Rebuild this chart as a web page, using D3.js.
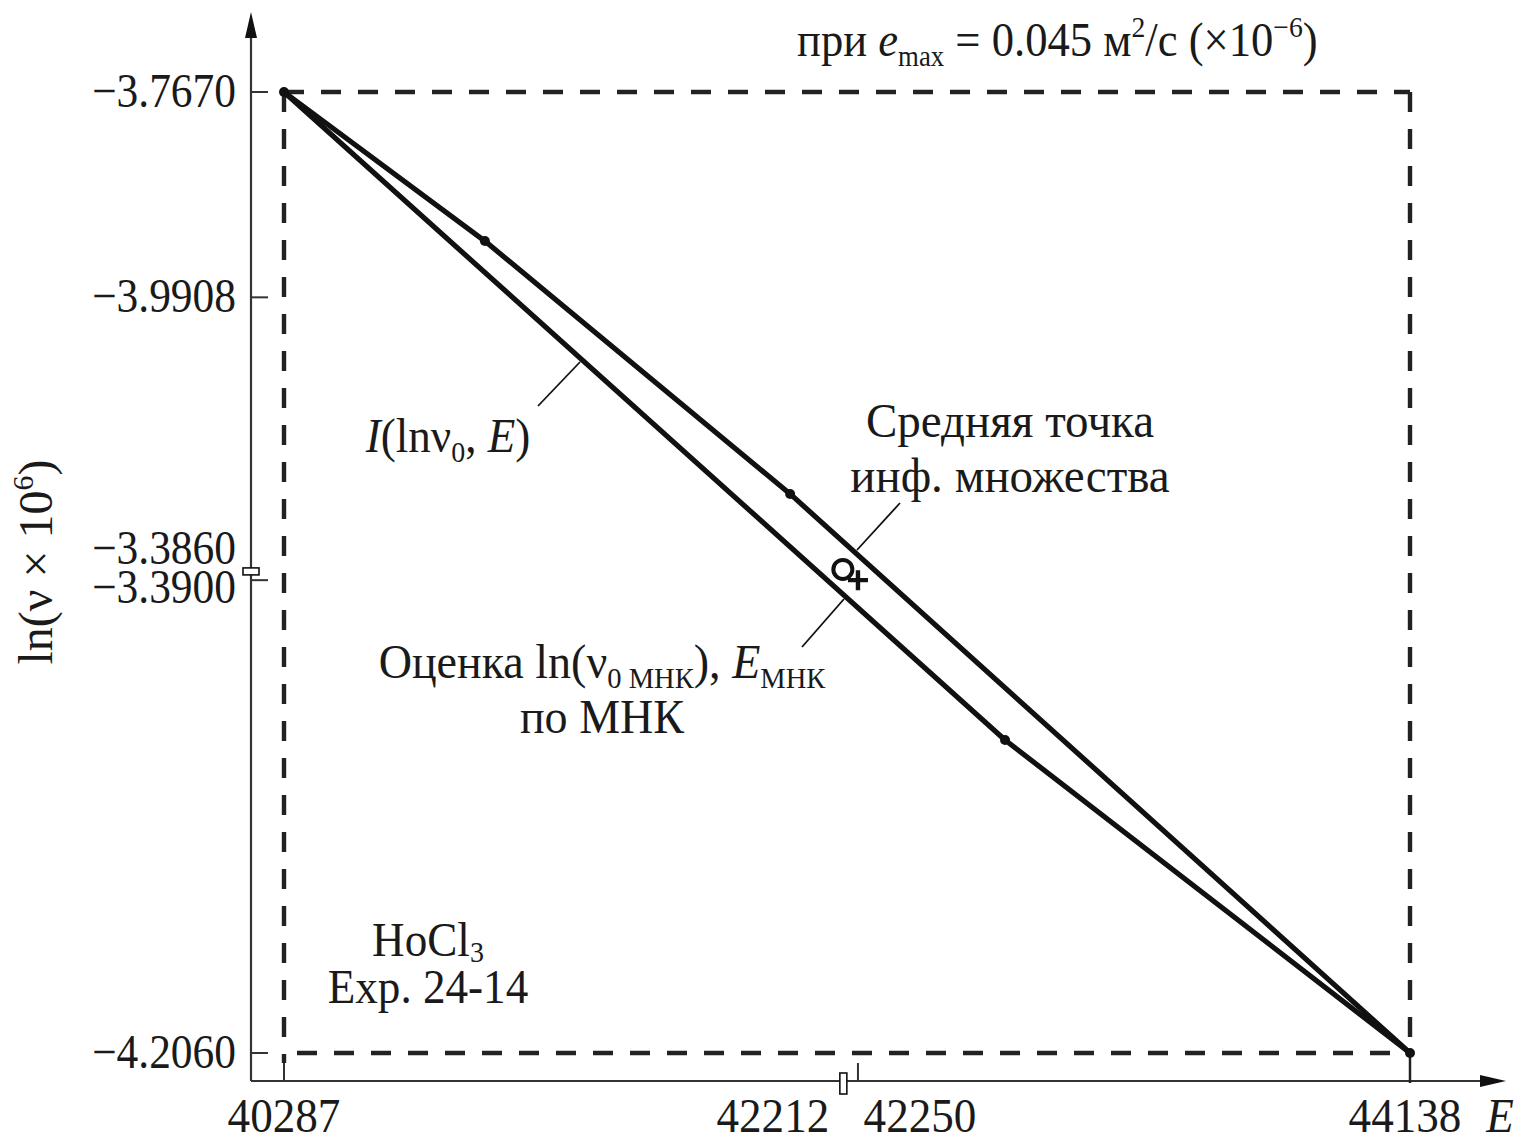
<!DOCTYPE html>
<html>
<head>
<meta charset="utf-8">
<script src="https://cdn.jsdelivr.net/npm/d3@7"></script>
<style>
  html, body { margin: 0; padding: 0; background: #fff; }
  svg { display: block; }
  text { font-family: "Liberation Serif", "DejaVu Serif", serif; fill: #1a1a1a; }
</style>
</head>
<body>
<svg id="chart" width="1522" height="1143"></svg>
<script>
// Информационное множество I(lnν0, E): верхняя и нижняя границы (вершины многоугольника)
const upperEdge = [[40287, -3.7670], [40974, -3.8351], [42018, -3.9506], [44138, -4.2060]];
const lowerEdge = [[40287, -3.7670], [42753, -4.0630], [44138, -4.2060]];

// Прямоугольник внешней оценки
const boxE = [40287, 44138];
const boxLn = [-3.7670, -4.2060];

// Средняя точка множества и оценка МНК
const midPoint = [42212, -3.9860];
const lsqPoint = [42250, -3.9900];

// Подписи делений осей
const xTickValues = [40287, 42212, 42250, 44138];
const xTickLabels = ["40287", "42212", "42250", "44138"];
const yTickValues = [-3.7670, -3.8608, -3.9860, -3.9900, -4.2060];
const yTickLabels = ["\u22123.7670", "\u22123.9908", "\u22123.3860", "\u22123.3900", "\u22124.2060"];

const SX = 0.94;     // сжатие шрифта по горизонтали
const FS = 48;       // основной кегль

const svg = d3.select("#chart");
const x = d3.scaleLinear().domain(boxE).range([284, 1410]);
const y = d3.scaleLinear().domain(boxLn).range([92, 1053]);

const axisX0 = 251, axisY0 = 1081;
const ink = "#111";

// Текст с индексами / курсивом
function rich(parent, px, py, anchor, parts, opts = {}) {
  const rot = opts.rotate ? ` rotate(${opts.rotate})` : "";
  const t = parent.append("text")
    .attr("transform", `translate(${px},${py})${rot} scale(${opts.sx || SX},1)`)
    .attr("text-anchor", anchor)
    .attr("font-size", opts.size || FS);
  let off = 0;
  parts.forEach(p => {
    if (typeof p === "string") p = { t: p };
    const target = p.sub ? (p.dy || 10) : p.sup ? -19 : 0;
    const ts = t.append("tspan").text(p.t).attr("dy", target - off);
    off = target;
    if (p.i) ts.attr("font-style", "italic");
    if (p.sub || p.sup) ts.attr("font-size", (opts.size || FS) * (p.small || 0.62));
  });
  return t;
}

// Оси со стрелками
svg.append("line").attr("x1", axisX0).attr("y1", axisY0).attr("x2", axisX0).attr("y2", 30)
  .attr("stroke", "#333").attr("stroke-width", 2.2);
svg.append("line").attr("x1", axisX0).attr("y1", axisY0).attr("x2", 1488).attr("y2", axisY0)
  .attr("stroke", "#333").attr("stroke-width", 2.2);
svg.append("path").attr("d", `M${axisX0},12 L${axisX0 - 6},38 L${axisX0 + 6},38 Z`).attr("fill", ink);
svg.append("path").attr("d", `M1506,${axisY0} L1480,${axisY0 - 6} L1480,${axisY0 + 6} Z`).attr("fill", ink);

// Пунктирный прямоугольник
const dash = "20,17";
const gBox = svg.append("g").attr("stroke", "#222").attr("stroke-width", 4.4).attr("fill", "none")
  .attr("stroke-dasharray", dash);
gBox.append("line").attr("x1", x(boxE[0])).attr("y1", y(boxLn[0])).attr("x2", x(boxE[1])).attr("y2", y(boxLn[0]));
gBox.append("line").attr("x1", x(boxE[0]) + 13).attr("y1", y(boxLn[1])).attr("x2", x(boxE[1])).attr("y2", y(boxLn[1]));
gBox.append("line").attr("x1", x(boxE[0])).attr("y1", y(boxLn[0])).attr("x2", x(boxE[0])).attr("y2", axisY0 - 18);
gBox.append("line").attr("x1", x(boxE[1])).attr("y1", y(boxLn[0])).attr("x2", x(boxE[1])).attr("y2", y(boxLn[1]));

// Деления оси Y
const yTickAt = [-3.7670, -3.8608, -3.9900, -4.2060];
svg.append("g").selectAll("line").data(yTickAt).join("line")
  .attr("x1", axisX0).attr("x2", axisX0 + 17)
  .attr("y1", d => y(d)).attr("y2", d => y(d))
  .attr("stroke", "#333").attr("stroke-width", 2);

// Деления оси X
const xTickAt = [40287, 42250];
svg.append("g").selectAll("line").data(xTickAt).join("line")
  .attr("x1", d => x(d)).attr("x2", d => x(d))
  .attr("y1", axisY0).attr("y2", axisY0 - 18)
  .attr("stroke", "#333").attr("stroke-width", 2);
svg.append("line").attr("x1", x(boxE[1])).attr("x2", x(boxE[1]))
  .attr("y1", y(boxLn[1])).attr("y2", axisY0 + 2).attr("stroke", "#222").attr("stroke-width", 2.5);

// Маркеры средней точки на осях
svg.append("rect").attr("x", axisX0 - 8).attr("y", y(midPoint[1]) - 3.5).attr("width", 16).attr("height", 7)
  .attr("fill", "#fff").attr("stroke", ink).attr("stroke-width", 1.6);
svg.append("rect").attr("x", x(midPoint[0]) - 7).attr("y", axisY0 - 8).attr("width", 7).attr("height", 21)
  .attr("fill", "#fff").attr("stroke", ink).attr("stroke-width", 1.6);

// Подписи делений
const yLabelShift = [15, 15, -7, 23, 15];
yTickValues.forEach((v, i) => {
  rich(svg, 236, y(v) + yLabelShift[i], "end", [yTickLabels[i]], { sx: 0.905 });
});
const xLabelShift = [0, -74, 62, -5];
xTickValues.forEach((v, i) => {
  rich(svg, x(v) + xLabelShift[i], 1132, "middle", [xTickLabels[i]]);
});
rich(svg, 1500, 1132, "middle", [{ t: "E", i: true }]);

// Границы информационного множества
const line = d3.line().x(d => x(d[0])).y(d => y(d[1]));
const gSet = svg.append("g").attr("fill", "none").attr("stroke", ink).attr("stroke-width", 5.2)
  .attr("stroke-linejoin", "round").attr("stroke-linecap", "round");
gSet.append("path").attr("d", line(upperEdge));
gSet.append("path").attr("d", line(lowerEdge));

// Вершины
const verts = upperEdge.concat(lowerEdge.slice(1, -1));
svg.append("g").selectAll("circle").data(verts).join("circle")
  .attr("cx", d => x(d[0])).attr("cy", d => y(d[1])).attr("r", 5).attr("fill", ink);

// Средняя точка (кружок) и оценка МНК (крестик)
svg.append("circle").attr("cx", x(midPoint[0]) - 4).attr("cy", y(midPoint[1]) - 2).attr("r", 9.5)
  .attr("fill", "none").attr("stroke", ink).attr("stroke-width", 4);
const cx = x(lsqPoint[0]), cy = y(lsqPoint[1]);
svg.append("path").attr("d", `M${cx - 10},${cy} H${cx + 10} M${cx},${cy - 10} V${cy + 10}`)
  .attr("stroke", ink).attr("stroke-width", 4.4);

// Выноски
const lead = svg.append("g").attr("stroke", ink).attr("stroke-width", 1.8);
lead.append("line").attr("x1", 538).attr("y1", 406).attr("x2", 580).attr("y2", 362);
lead.append("line").attr("x1", 900).attr("y1", 503).attr("x2", 857).attr("y2", 550);
lead.append("line").attr("x1", 844).attr("y1", 599).attr("x2", 802).attr("y2", 647);

// Текстовые подписи
rich(svg, 797, 56, "start", ["при ", { t: "e", i: true }, { t: "max", sub: true, small: 0.6 }, " = 0.045 м",
  { t: "2", sup: true }, "/с (×10", { t: "\u22126", sup: true }, ")"], { sx: 0.93 });
rich(svg, 52, 562, "middle", ["ln(ν × 10", { t: "6", sup: true }, ")"], { rotate: -90, sx: 1.0 });
rich(svg, 448, 452, "middle", [{ t: "I", i: true }, "(lnν", { t: "0", sub: true }, ", ", { t: "E", i: true }, ")"]);
rich(svg, 1010, 437, "middle", ["Средняя точка"], { sx: 0.98 });
rich(svg, 1010, 492, "middle", ["инф. множества"], { sx: 0.98 });
rich(svg, 602, 678, "middle", ["Оценка ln(ν", { t: "0 МНК", sub: true }, "), ", { t: "E", i: true }, { t: "МНК", sub: true }], { sx: 0.96 });
rich(svg, 602, 733, "middle", ["по МНК"], { sx: 0.96 });
rich(svg, 428, 956, "middle", ["HoCl", { t: "3", sub: true, dy: 6 }]);
rich(svg, 428, 1003, "middle", ["Exp. 24-14"]);
</script>
</body>
</html>
